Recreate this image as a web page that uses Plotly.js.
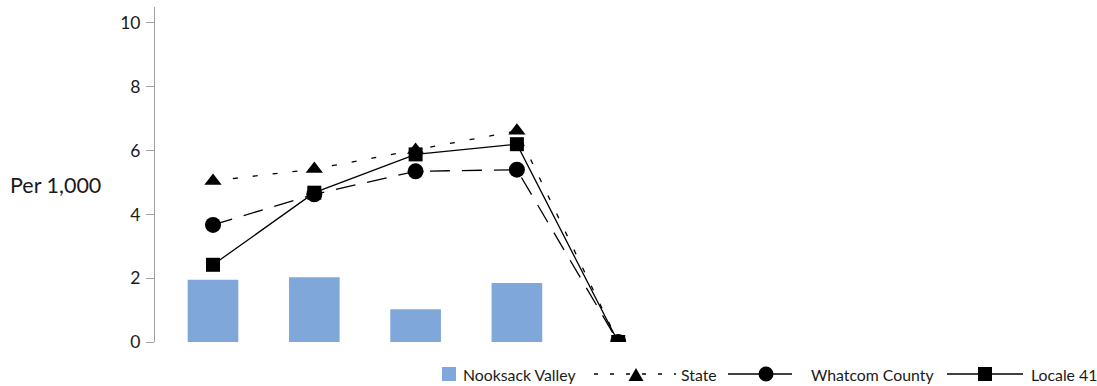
<!DOCTYPE html>
<html>
<head>
<meta charset="utf-8">
<script src="https://cdn.plot.ly/plotly-3.0.1.min.js"></script>
<style>html,body{margin:0;padding:0;background:#fff;}#chart{width:1097px;height:386px;}</style>
</head>
<body>
<div id="chart"></div>
<script>
// ---- data ----
const xIndex = [0, 1, 2, 3, 4];
const nooksackValley = [1.95, 2.03, 1.03, 1.85, 0];
const stateRate = [5.05, 5.42, 6.02, 6.62, 0];
const whatcomCounty = [3.67, 4.63, 5.35, 5.40, 0];
const locale41 = [2.42, 4.68, 5.88, 6.20, 0];
const yTicks = [0, 2, 4, 6, 8, 10];
const seriesNames = ['Nooksack Valley', 'State', 'Whatcom County', 'Locale 41'];
const yTitle = 'Per 1,000';

// ---- layout constants ----
const W = 1097, H = 386;
const M = {l: 155, r: 7, t: 7, b: 44};
const plotW = W - M.l - M.r, plotH = H - M.t - M.b;
const px = x => (x - M.l) / plotW;          // pixel -> paper x
const py = y => (H - M.b - y) / plotH;      // pixel -> paper y
const FONT = 'Lato, "Open Sans", sans-serif';
const barColor = '#7FA7D9';
const stateDash = '5px,15px';
const whatcomDash = '20px,12px';

const traces = [
  {type: 'bar', x: xIndex, y: nooksackValley, name: seriesNames[0], width: 0.5,
   marker: {color: barColor}, hoverinfo: 'skip'},
  {type: 'scatter', mode: 'lines+markers', x: xIndex, y: stateRate, name: seriesNames[1],
   line: {color: '#000', width: 1.3, dash: stateDash},
   marker: {symbol: 'triangle-up', size: 15, color: '#000'}},
  {type: 'scatter', mode: 'lines+markers', x: xIndex, y: whatcomCounty, name: seriesNames[2],
   line: {color: '#000', width: 1.3, dash: whatcomDash},
   marker: {symbol: 'circle', size: 16, color: '#000'}},
  {type: 'scatter', mode: 'lines+markers', x: xIndex, y: locale41, name: seriesNames[3],
   line: {color: '#000', width: 1.3},
   marker: {symbol: 'square', size: 14, color: '#000'}}
];

// ---- custom legend (Excel-style) ----
const ly = 374;
const shapes = [
  {type: 'rect', xref: 'paper', yref: 'paper', x0: px(442), x1: px(456), y0: py(381), y1: py(367),
   fillcolor: barColor, line: {width: 0}},
  {type: 'line', xref: 'paper', yref: 'paper', x0: px(594), x1: px(676), y0: py(ly), y1: py(ly),
   line: {color: '#000', width: 1.3, dash: '4px,12px'}},
  {type: 'path', xref: 'paper', yref: 'paper',
   path: `M${px(628.5)},${py(381)} L${px(643.5)},${py(381)} L${px(636)},${py(368)} Z`,
   fillcolor: '#000', line: {width: 0}},
  {type: 'line', xref: 'paper', yref: 'paper', x0: px(728), x1: px(792), y0: py(ly), y1: py(ly),
   line: {color: '#000', width: 1.3}},
  {type: 'circle', xref: 'paper', yref: 'paper', x0: px(758.5), x1: px(773.5), y0: py(381.5), y1: py(366.5),
   fillcolor: '#000', line: {width: 0}},
  {type: 'line', xref: 'paper', yref: 'paper', x0: px(947), x1: px(1023), y0: py(ly), y1: py(ly),
   line: {color: '#000', width: 1.3}},
  {type: 'rect', xref: 'paper', yref: 'paper', x0: px(978), x1: px(992), y0: py(381), y1: py(367),
   fillcolor: '#000', line: {width: 0}}
];
const legendText = [[seriesNames[0], 461], [seriesNames[1], 679], [seriesNames[2], 809], [seriesNames[3], 1029]];
const annotations = legendText.map(([t, x]) => ({
  text: t, xref: 'paper', yref: 'paper', x: px(x), y: py(ly), xanchor: 'left', yanchor: 'middle',
  showarrow: false, font: {family: FONT, size: 15.8, color: '#1a1a1a'}
}));
annotations.push({text: yTitle, xref: 'paper', yref: 'paper', x: px(8), y: py(185),
  xanchor: 'left', yanchor: 'middle', showarrow: false, font: {family: FONT, size: 21.5, color: '#1a1a1a'}});

const layout = {
  width: W, height: H, margin: M, showlegend: false,
  paper_bgcolor: '#fff', plot_bgcolor: '#fff',
  font: {family: FONT, color: '#1a1a1a'},
  xaxis: {visible: false, range: [-0.5726, -0.5726 + plotW / 101.3], fixedrange: true},
  yaxis: {range: [0, 10.5], tickvals: yTicks, ticktext: yTicks.map(String),
    ticks: 'outside', ticklen: 8, tickcolor: '#a0a0a0', tickwidth: 1,
    showline: true, linecolor: '#a0a0a0', linewidth: 1, ticklabelstandoff: 2,
    showgrid: false, zeroline: false, tickfont: {family: FONT, size: 17.5, color: '#1a1a1a'}},
  shapes: shapes, annotations: annotations
};

Plotly.newPlot('chart', traces, layout, {staticPlot: true, displayModeBar: false});
</script>
</body>
</html>
